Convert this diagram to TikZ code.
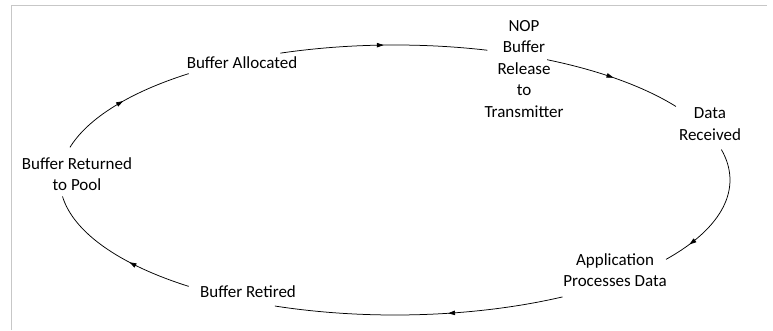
\documentclass[tikz,border=0pt]{standalone}
\usepackage{fontspec}
\setmainfont{Carlito}
\usetikzlibrary{decorations.markings,arrows.meta}

\begin{document}
\begin{tikzpicture}[x=1pt,y=1pt,
  every node/.style={font=\fontsize{17}{21.5}\selectfont, align=center, inner sep=0pt},
  flow/.style={line width=0.75pt, postaction={decorate},
    decoration={markings, mark=at position #1 with {\arrow{Triangle[length=7pt,width=4.5pt]}}}},
  flow/.default=0.5]
\useasboundingbox (0,0) rectangle (773,330);
\draw[black!22, line width=1pt] (11,0) -- (11,324) -- (767,324);

% states of the buffer
\node (alloc) at (242,267) {Buffer Allocated};
\node (nop) at (524,261) {NOP\\Buffer\\Release\\to\\Transmitter};
\node (recv) at (710,206) {Data\\Received};
\node (app) at (615,60) {Application\\Processes Data};
\node (retired) at (248,38) {Buffer Retired};
\node (pool) at (77,156) {Buffer Returned\\to Pool};

% the cycle, on one ellipse
\coordinate (C) at (395,150);
\path (C) ++(110:335 and 135) coordinate (s1)
      (C) ++(63:335 and 135) coordinate (s2)
      (C) ++(13:335 and 135) coordinate (s3)
      (C) ++(-60:335 and 135) coordinate (s4)
      (C) ++(-128:335 and 135) coordinate (s5)
      (C) ++(166:335 and 135) coordinate (s6);
\draw[flow=0.5] (s1) arc[start angle=110, end angle=74, x radius=335, y radius=135];
\draw[flow=0.5] (s2) arc[start angle=63, end angle=33, x radius=335, y radius=135];
\draw[flow=0.8] (s3) arc[start angle=13, end angle=-36, x radius=335, y radius=135];
\draw[flow=0.4] (s4) arc[start angle=-60, end angle=-111, x radius=335, y radius=135];
\draw[flow=0.4] (s5) arc[start angle=-128, end angle=-173, x radius=335, y radius=135];
\draw[flow=0.5] (s6) arc[start angle=166, end angle=128, x radius=335, y radius=135];
\end{tikzpicture}
\end{document}
